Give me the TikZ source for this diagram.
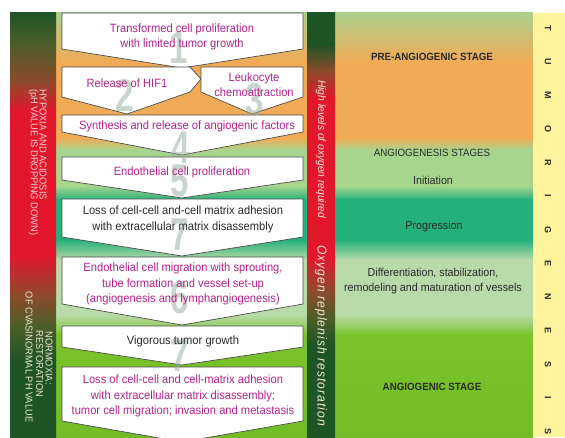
\documentclass[tikz,border=0pt]{standalone}
\usepackage{fontspec}
\setmainfont{Liberation Sans}
\newfontfamily\boxfont{Liberation Sans}[FakeStretch=0.93]
\newfontfamily\midfont{Liberation Sans}[FakeStretch=0.93,LetterSpace=8]
\newfontfamily\digitfont{Liberation Sans}[FakeStretch=0.72]
\definecolor{topg}{HTML}{ABCF8B}
\definecolor{og}{HTML}{F1AB56}
\definecolor{lg}{HTML}{A8D58E}
\definecolor{tg}{HTML}{23B07A}
\definecolor{pg}{HTML}{B9DBA9}
\definecolor{bgr}{HTML}{7BC32C}
\definecolor{bgr2}{HTML}{72BD27}
\definecolor{dkg}{HTML}{1F5427}
\definecolor{rd}{HTML}{E3172C}
\definecolor{brn}{HTML}{8E4A2C}
\definecolor{olv}{HTML}{4D5E28}
\definecolor{yel}{HTML}{FFF49E}
\definecolor{mag}{HTML}{B4238E}
\definecolor{digit}{HTML}{93AB9B}
\definecolor{txt}{HTML}{2A2A2A}
\definecolor{midc}{HTML}{F3E6D8}
\definecolor{hypc}{HTML}{F6CFD6}
\definecolor{norc}{HTML}{E6E4D0}
\newcommand\seg[6]{\fill[top color=#5,bottom color=#6] (#1,#3-0.4) rectangle (#2,#4+0.4);}
\newcommand\bgcol[2]{%
  \seg{#1}{#2}{13}{62}{topg}{og}
  \seg{#1}{#2}{62}{138}{og}{og}
  \seg{#1}{#2}{138}{150}{og}{lg}
  \seg{#1}{#2}{150}{186}{lg}{lg}
  \seg{#1}{#2}{186}{200}{lg}{tg}
  \seg{#1}{#2}{200}{240}{tg}{tg}
  \seg{#1}{#2}{240}{260}{tg}{pg}
  \seg{#1}{#2}{260}{315}{pg}{pg}
  \seg{#1}{#2}{315}{335}{pg}{bgr}
  \seg{#1}{#2}{335}{437}{bgr}{bgr2}}
\begin{document}
\begin{tikzpicture}[x=1pt,y=-1pt,
  stepbox/.style={draw=black!70, line width=0.7pt, fill=white},
  boxtext/.style={font=\boxfont\fontsize{12}{15.5}\selectfont, align=center, inner sep=0pt},
  magtext/.style={boxtext, text=mag},
  blktext/.style={boxtext, text=txt},
  digitnum/.style={font=\digitfont\bfseries\fontsize{46}{46}\selectfont, text=digit, opacity=0.5, inner sep=0pt},
  coltext/.style={font=\boxfont\fontsize{11.5}{15}\selectfont, text=txt, align=center, inner sep=0pt},
  stagetext/.style={font=\boxfont\bfseries\fontsize{10.5}{12}\selectfont, text=txt, inner sep=0pt},
  stagereg/.style={font=\boxfont\fontsize{10.5}{12}\selectfont, text=txt, inner sep=0pt},
  letter/.style={font=\bfseries\fontsize{9}{9}\selectfont, text=txt, rotate=-90, inner sep=0pt},
  bartext/.style={font=\boxfont\fontsize{10}{10}\selectfont, rotate=-90, inner sep=0pt},
  midtext/.style={font=\boxfont\itshape\fontsize{11}{12}\selectfont, text=midc, rotate=-90, inner sep=0pt, anchor=west}
]
\useasboundingbox (0,0) rectangle (565,437);
\clip (0,0) rectangle (565,437);
\fill[white] (0,0) rectangle (565,437);
% backgrounds
\bgcol{56}{307}
\bgcol{335}{533}
\fill[yel] (533,13) rectangle (565,437);
% left bar
\seg{10}{56}{13}{45}{dkg}{olv}
\seg{10}{56}{45}{82}{olv}{brn}
\seg{10}{56}{82}{110}{brn}{rd}
\seg{10}{56}{110}{255}{rd}{rd}
\seg{10}{56}{255}{295}{rd}{brn}
\seg{10}{56}{295}{325}{brn}{olv}
\seg{10}{56}{325}{360}{olv}{dkg}
\seg{10}{56}{360}{437}{dkg}{dkg}
% middle bar
\seg{307}{335}{13}{45}{dkg}{dkg}
\seg{307}{335}{45}{72}{dkg}{brn}
\seg{307}{335}{72}{98}{brn}{rd}
\seg{307}{335}{98}{258}{rd}{rd}
\seg{307}{335}{258}{290}{rd}{brn}
\seg{307}{335}{290}{318}{brn}{olv}
\seg{307}{335}{318}{345}{olv}{dkg}
\seg{307}{335}{345}{437}{dkg}{dkg}
% boxes
\draw[stepbox] (62,13) -- (303,13) -- (303,49) -- (182,68) -- (62,49) -- cycle;
\draw[stepbox] (62,67) -- (190,67) -- (201,79) -- (190,92) -- (127,114) -- (62,97) -- cycle;
\draw[stepbox] (201,67) -- (303,67) -- (303,97) -- (252,114) -- (201,92) -- cycle;
\draw[stepbox] (62,115) -- (303,115) -- (303,132) -- (182,155) -- (62,132) -- cycle;
\draw[stepbox] (62,157) -- (303,157) -- (303,180) -- (182,198) -- (62,180) -- cycle;
\draw[stepbox] (62,199) -- (303,199) -- (303,237) -- (182,256) -- (62,237) -- cycle;
\draw[stepbox] (62,257) -- (303,257) -- (303,304) -- (182,325) -- (62,304) -- cycle;
\draw[stepbox] (62,326) -- (303,326) -- (303,347) -- (182,365) -- (62,347) -- cycle;
\draw[stepbox] (62,367) -- (303,367) -- (303,421) -- (182,442) -- (62,421) -- cycle;
% digits
\node[digitnum] (d1) at (179,48) {1};
\node[digitnum] (d2) at (125,95) {2};
\node[digitnum] (d3) at (255,100) {3};
\node[digitnum] (d4) at (181,148) {4};
\node[digitnum] (d5) at (180,181) {5};
\node[digitnum] (d6) at (180,235) {7};
\node[digitnum] (d7) at (180,298) {6};
\node[digitnum] (d8) at (180,356) {7};
% box texts
\node[magtext] (t1) at (182,37) {Transformed cell proliferation\\with limited tumor growth};
\node[magtext] (t2) at (127,83) {Release of HIF1};
\node[magtext] (t3) at (254,84.5) {Leukocyte\\chemoattraction};
\node[magtext] (t4) at (187,126) {Synthesis and release of angiogenic factors};
\node[magtext] (t5) at (182,172) {Endothelial cell proliferation};
\node[blktext] (t6) at (183,219.5) {Loss of cell-cell and-cell matrix adhesion\\with extracellular matrix disassembly};
\node[magtext] (t7) at (183,284) {Endothelial cell migration with sprouting,\\tube formation and vessel set-up\\(angiogenesis and lymphangiogenesis)};
\node[blktext] (t8) at (183,341) {Vigorous tumor growth};
\node[magtext] (t9) at (183,396) {Loss of cell-cell and cell-matrix adhesion\\with extracellular matrix disassembly;\\tumor cell migration; invasion and metastasis};
% right column texts
\node[stagetext] (s1) at (432,57) {PRE-ANGIOGENIC STAGE};
\node[stagereg] (s2) at (432,153) {ANGIOGENESIS STAGES};
\node[coltext] (s3) at (433,180) {Initiation};
\node[coltext] (s4) at (434,227) {Progression};
\node[coltext] (s5) at (433,281) {Differentiation, stabilization,\\remodeling and maturation of vessels};
\node[stagetext] (s6) at (432,387) {ANGIOGENIC STAGE};
% tumorigenesis
\foreach \l [count=\i] in {T,U,M,O,R,I,G,E,N,E,S,I,S}
  \node[letter] (L\i) at (548,{28+(\i-1)*33.6}) {\l};
% middle bar texts
\node[midtext] (m1) at (321,80) {High levels of oxygen required};
\node[midtext, font=\midfont\itshape\fontsize{13}{14}\selectfont] (m2) at (321,245) {Oxygen replenish restoration};
% left bar texts
\node[bartext, text=hypc, anchor=west] (h1) at (43,89) {HYPOXIA AND ACIDOSIS};
\node[bartext, text=hypc, anchor=west] (h2) at (33.5,89) {(pH VALUE IS DROPPING DOWN)};
\node[bartext, text=norc] (n1) at (49,358) {NORMOXIA:};
\node[bartext, text=norc] (n2) at (39.5,364) {RESTORATION};
\node[bartext, text=norc] (n3) at (29,357) {OF CVASINORMAL PH VALUE};
\end{tikzpicture}
\end{document}
